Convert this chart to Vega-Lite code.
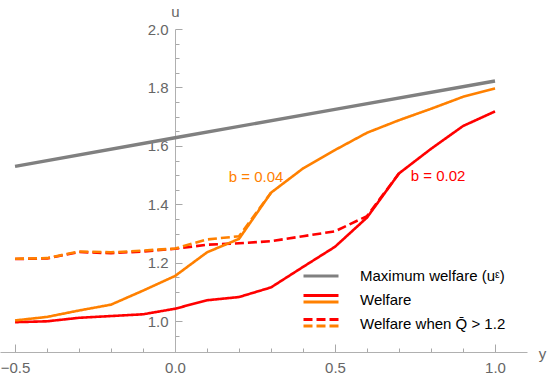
{
  "$schema": "https://vega.github.io/schema/vega-lite/v6.json",
  "autosize": {"type": "none"},
  "width": 527,
  "height": 323,
  "padding": {"left": 0, "top": 29, "right": 23, "bottom": 25},
  "background": "white",
  "config": {
    "view": {"stroke": null},
    "font": "Liberation Sans",
    "axis": {"labelFont": "Liberation Sans", "titleFont": "Liberation Sans"},
    "legend": {
      "orient": "none", "title": null, "padding": 0, "symbolType": "stroke", "symbolSize": 1225, "symbolStrokeWidth": 3,
      "labelOffset": 20, "labelFontSize": 15, "labelFont": "Liberation Sans", "labelFontWeight": "normal", "labelColor": "#000000",
      "labelLimit": 300, "rowPadding": 0, "clipHeight": 24
    }
  },
  "data": {
    "values": [
      {"x": -0.5, "u": 1.53, "b": "max", "kind": "Maximum welfare (uᵋ)"},
      {"x": 0.0, "u": 1.628, "b": "max", "kind": "Maximum welfare (uᵋ)"},
      {"x": 0.5, "u": 1.725, "b": "max", "kind": "Maximum welfare (uᵋ)"},
      {"x": 1.0, "u": 1.822, "b": "max", "kind": "Maximum welfare (uᵋ)"},

      {"x": -0.5, "u": 0.997, "b": "0.02", "kind": "Welfare"},
      {"x": -0.4, "u": 1.0, "b": "0.02", "kind": "Welfare"},
      {"x": -0.3, "u": 1.012, "b": "0.02", "kind": "Welfare"},
      {"x": -0.2, "u": 1.018, "b": "0.02", "kind": "Welfare"},
      {"x": -0.1, "u": 1.024, "b": "0.02", "kind": "Welfare"},
      {"x": 0.0, "u": 1.043, "b": "0.02", "kind": "Welfare"},
      {"x": 0.1, "u": 1.072, "b": "0.02", "kind": "Welfare"},
      {"x": 0.2, "u": 1.083, "b": "0.02", "kind": "Welfare"},
      {"x": 0.3, "u": 1.116, "b": "0.02", "kind": "Welfare"},
      {"x": 0.4, "u": 1.186, "b": "0.02", "kind": "Welfare"},
      {"x": 0.5, "u": 1.255, "b": "0.02", "kind": "Welfare"},
      {"x": 0.6, "u": 1.355, "b": "0.02", "kind": "Welfare"},
      {"x": 0.7, "u": 1.506, "b": "0.02", "kind": "Welfare"},
      {"x": 0.8, "u": 1.59, "b": "0.02", "kind": "Welfare"},
      {"x": 0.9, "u": 1.668, "b": "0.02", "kind": "Welfare"},
      {"x": 1.0, "u": 1.718, "b": "0.02", "kind": "Welfare"},

      {"x": -0.5, "u": 1.213, "b": "0.02", "kind": "Welfare when Q̄ > 1.2"},
      {"x": -0.4, "u": 1.215, "b": "0.02", "kind": "Welfare when Q̄ > 1.2"},
      {"x": -0.3, "u": 1.237, "b": "0.02", "kind": "Welfare when Q̄ > 1.2"},
      {"x": -0.2, "u": 1.233, "b": "0.02", "kind": "Welfare when Q̄ > 1.2"},
      {"x": -0.1, "u": 1.239, "b": "0.02", "kind": "Welfare when Q̄ > 1.2"},
      {"x": 0.0, "u": 1.248, "b": "0.02", "kind": "Welfare when Q̄ > 1.2"},
      {"x": 0.1, "u": 1.262, "b": "0.02", "kind": "Welfare when Q̄ > 1.2"},
      {"x": 0.2, "u": 1.267, "b": "0.02", "kind": "Welfare when Q̄ > 1.2"},
      {"x": 0.3, "u": 1.274, "b": "0.02", "kind": "Welfare when Q̄ > 1.2"},
      {"x": 0.4, "u": 1.291, "b": "0.02", "kind": "Welfare when Q̄ > 1.2"},
      {"x": 0.5, "u": 1.308, "b": "0.02", "kind": "Welfare when Q̄ > 1.2"},
      {"x": 0.6, "u": 1.36, "b": "0.02", "kind": "Welfare when Q̄ > 1.2"},
      {"x": 0.7, "u": 1.506, "b": "0.02", "kind": "Welfare when Q̄ > 1.2"},

      {"x": -0.5, "u": 1.003, "b": "0.04", "kind": "Welfare"},
      {"x": -0.4, "u": 1.015, "b": "0.04", "kind": "Welfare"},
      {"x": -0.3, "u": 1.037, "b": "0.04", "kind": "Welfare"},
      {"x": -0.2, "u": 1.057, "b": "0.04", "kind": "Welfare"},
      {"x": -0.1, "u": 1.105, "b": "0.04", "kind": "Welfare"},
      {"x": 0.0, "u": 1.155, "b": "0.04", "kind": "Welfare"},
      {"x": 0.1, "u": 1.236, "b": "0.04", "kind": "Welfare"},
      {"x": 0.2, "u": 1.282, "b": "0.04", "kind": "Welfare"},
      {"x": 0.3, "u": 1.44, "b": "0.04", "kind": "Welfare"},
      {"x": 0.4, "u": 1.523, "b": "0.04", "kind": "Welfare"},
      {"x": 0.5, "u": 1.586, "b": "0.04", "kind": "Welfare"},
      {"x": 0.6, "u": 1.645, "b": "0.04", "kind": "Welfare"},
      {"x": 0.7, "u": 1.688, "b": "0.04", "kind": "Welfare"},
      {"x": 0.8, "u": 1.727, "b": "0.04", "kind": "Welfare"},
      {"x": 0.9, "u": 1.768, "b": "0.04", "kind": "Welfare"},
      {"x": 1.0, "u": 1.797, "b": "0.04", "kind": "Welfare"},

      {"x": -0.5, "u": 1.214, "b": "0.04", "kind": "Welfare when Q̄ > 1.2"},
      {"x": -0.4, "u": 1.216, "b": "0.04", "kind": "Welfare when Q̄ > 1.2"},
      {"x": -0.3, "u": 1.239, "b": "0.04", "kind": "Welfare when Q̄ > 1.2"},
      {"x": -0.2, "u": 1.236, "b": "0.04", "kind": "Welfare when Q̄ > 1.2"},
      {"x": -0.1, "u": 1.242, "b": "0.04", "kind": "Welfare when Q̄ > 1.2"},
      {"x": 0.0, "u": 1.249, "b": "0.04", "kind": "Welfare when Q̄ > 1.2"},
      {"x": 0.1, "u": 1.28, "b": "0.04", "kind": "Welfare when Q̄ > 1.2"},
      {"x": 0.2, "u": 1.291, "b": "0.04", "kind": "Welfare when Q̄ > 1.2"},
      {"x": 0.3, "u": 1.44, "b": "0.04", "kind": "Welfare when Q̄ > 1.2"}
    ]
  },
  "layer": [
    {
      "transform": [{"filter": "datum.b == 'max'"}],
      "mark": {"type": "line", "strokeWidth": 3.4, "clip": true},
      "encoding": {
        "x": {
          "field": "x", "type": "quantitative",
          "scale": {"domain": [-0.547, 1.1], "nice": false, "zero": false},
          "axis": {
            "title": null, "orient": "bottom",
            "values": [-0.4, -0.3, -0.2, -0.1, 0.1, 0.2, 0.3, 0.4, 0.6, 0.7, 0.8, 0.9],
            "labels": false, "grid": false, "domain": false,
            "tickColor": "#a8a8a8", "tickWidth": 1, "tickSize": -4
          }
        },
        "y": {
          "field": "u", "type": "quantitative",
          "scale": {"domain": [0.895, 2.0], "nice": false, "zero": false},
          "axis": {
            "title": null, "orient": "left", "offset": -175,
            "values": [0.95, 1.05, 1.1, 1.15, 1.25, 1.3, 1.35, 1.45, 1.5, 1.55, 1.65, 1.7, 1.75, 1.85, 1.9, 1.95],
            "labels": false, "grid": false, "domain": false,
            "tickColor": "#a8a8a8", "tickWidth": 1, "tickSize": -4
          }
        },
        "color": {
          "field": "kind", "type": "nominal",
          "scale": {"domain": ["Maximum welfare (uᵋ)", "Welfare", "Welfare when Q̄ > 1.2"], "range": ["#808080", "rgba(0,0,0,0)", "rgba(0,0,0,0)"]},
          "legend": {"legendX": 302, "legendY": 235}
        }
      }
    },
    {
      "transform": [{"filter": "datum.b == '0.02'"}],
      "mark": {"type": "line", "strokeWidth": 2.6, "clip": true},
      "encoding": {
        "x": {"field": "x", "type": "quantitative", "axis": null},
        "y": {"field": "u", "type": "quantitative", "axis": null},
        "color": {
          "field": "kind", "type": "nominal",
          "scale": {"domain": ["Welfare", "Welfare when Q̄ > 1.2"], "range": ["#ff0000", "#ff0000"]},
          "legend": {"legendX": 302, "legendY": 254.5, "labelExpr": "''"}
        },
        "strokeDash": {
          "field": "kind", "type": "nominal",
          "scale": {"domain": ["Welfare", "Welfare when Q̄ > 1.2"], "range": [[1, 0], [9, 4]]},
          "legend": {"legendX": 302, "legendY": 254.5, "labelExpr": "''"}
        }
      }
    },
    {
      "transform": [{"filter": "datum.b == '0.04'"}],
      "mark": {"type": "line", "strokeWidth": 2.6, "color": "#ff8000", "clip": true},
      "encoding": {
        "x": {"field": "x", "type": "quantitative", "axis": null},
        "y": {"field": "u", "type": "quantitative", "axis": null},
        "strokeDash": {
          "field": "kind", "type": "nominal",
          "scale": {"domain": ["Welfare", "Welfare when Q̄ > 1.2"], "range": [[1, 0], [9, 4]]},
          "legend": {"legendX": 302, "legendY": 261, "labelExpr": "''", "symbolStrokeColor": "#ff8000"}
        }
      }
    },
    {
      "transform": [{"filter": "datum.b == '0.04' && datum.kind == 'Welfare' && datum.x == 0.3"}],
      "mark": {"type": "text", "dx": -15, "dy": -16, "fontSize": 15, "font": "Liberation Sans", "color": "#ff8000", "align": "center", "baseline": "middle"},
      "encoding": {
        "x": {
          "field": "x", "type": "quantitative",
          "axis": {
            "title": "y", "orient": "bottom", "titleAngle": 0, "titleX": 542, "titleY": 1, "titleAlign": "center", "titleBaseline": "middle",
            "titleFontSize": 15, "titleFontWeight": "normal", "titleColor": "#666666",
            "values": [-0.5, 0.0, 0.5, 1.0], "format": ".1f",
            "grid": false, "domainColor": "#b0b0b0", "domainWidth": 1, "tickColor": "#a8a8a8", "tickWidth": 1, "tickSize": -8,
            "labelFontSize": 15, "labelColor": "#666666", "labelPadding": 16, "labelFlush": false, "labelOverlap": false
          }
        },
        "y": {
          "field": "u", "type": "quantitative",
          "axis": {
            "title": "u", "orient": "left", "titleAngle": 0, "titleX": 0, "titleY": -18, "titleAlign": "center", "titleBaseline": "middle",
            "titleFontSize": 15, "titleFontWeight": "normal", "titleColor": "#666666",
            "offset": -175,
            "values": [1.0, 1.2, 1.4, 1.6, 1.8, 2.0], "format": ".1f",
            "grid": false, "domainColor": "#b0b0b0", "domainWidth": 1, "tickColor": "#a8a8a8", "tickWidth": 1, "tickSize": -7,
            "labelFontSize": 15, "labelColor": "#666666", "labelPadding": 14, "labelFlush": false, "labelOverlap": false
          }
        },
        "text": {"value": "b = 0.04"}
      }
    },
    {
      "transform": [{"filter": "datum.b == '0.02' && datum.kind == 'Welfare' && datum.x == 0.7"}],
      "mark": {"type": "text", "dx": 39, "dy": 3, "fontSize": 15, "font": "Liberation Sans", "color": "#ff0000", "align": "center", "baseline": "middle"},
      "encoding": {
        "x": {"field": "x", "type": "quantitative", "axis": null},
        "y": {"field": "u", "type": "quantitative", "axis": null},
        "text": {"value": "b = 0.02"}
      }
    }
  ],
  "resolve": {
    "scale": {"strokeDash": "independent", "color": "independent"},
    "axis": {"x": "independent", "y": "independent"}
  }
}
